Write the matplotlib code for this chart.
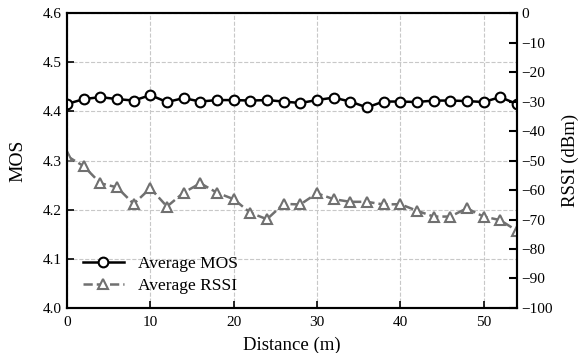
import numpy as np
import matplotlib.pyplot as plt

plt.rcParams['font.family'] = ['Liberation Serif', 'DejaVu Serif']

# Данные
distance = np.arange(0, 55, 2)
mos = [4.415, 4.425, 4.429, 4.425, 4.422, 4.433, 4.419, 4.427, 4.420, 4.423,
       4.423, 4.422, 4.423, 4.420, 4.417, 4.423, 4.428, 4.420, 4.408, 4.420,
       4.420, 4.419, 4.422, 4.422, 4.421, 4.419, 4.429, 4.415]
rssi = [-48.5, -51.9, -57.7, -59.1, -64.7, -59.4, -65.6, -60.9, -57.7, -60.9,
        -63.1, -67.7, -69.9, -64.7, -64.9, -61.1, -63.1, -64.0, -64.0, -64.9,
        -64.8, -67.0, -69.0, -69.0, -66.2, -69.0, -70.2, -73.8]

x_ticks = [0, 10, 20, 30, 40, 50]
mos_ticks = [4.0, 4.1, 4.2, 4.3, 4.4, 4.5, 4.6]
rssi_ticks = list(range(-100, 1, 10))

fig = plt.figure(figsize=(5.88, 3.53), dpi=100)
ax = fig.add_axes([0.114, 0.1275, 0.765, 0.8355])
ax2 = ax.twinx()

l1, = ax.plot(distance, mos, color='black', lw=1.8, marker='o', ms=7,
              mfc='white', mec='black', mew=1.5, label='Average MOS', zorder=3)
l2, = ax2.plot(distance, rssi, color='#707070', lw=1.8, ls='--', marker='^',
               ms=7, mfc='white', mec='#707070', mew=1.5, label='Average RSSI')

ax.set_xlim(0, 54)
ax.set_ylim(4.0, 4.6)
ax2.set_ylim(-100, 0)
ax.set_xticks(x_ticks)
ax.set_yticks(mos_ticks)
ax2.set_yticks(rssi_ticks)

ax.grid(True, ls='--', color='#c8c8c8', lw=0.8)
ax.tick_params(direction='in', labelsize=11, length=5, width=1.2)
ax.tick_params(axis='x', pad=6)
ax2.tick_params(direction='in', labelsize=11, length=6, width=1.5)
for a in (ax, ax2):
    for s in a.spines.values():
        s.set_linewidth(1.5)

ax.set_xlabel('Distance (m)', fontsize=13.5, labelpad=5)
ax.set_ylabel('MOS', fontsize=14, labelpad=12)
ax2.set_ylabel('RSSI (dBm)', fontsize=13.5, labelpad=6)

ax.legend(handles=[l1, l2], loc='lower left', frameon=False, fontsize=12.5,
          handlelength=2.4, labelspacing=0.35, bbox_to_anchor=(0.0, -0.005))

fig.savefig('out.png', dpi=100)
